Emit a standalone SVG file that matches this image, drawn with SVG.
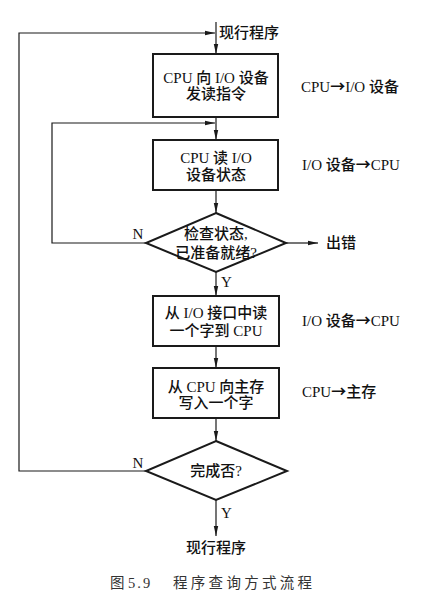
<svg xmlns="http://www.w3.org/2000/svg" width="426" height="598" viewBox="0 0 426 598">
<style>
.t{font-family:"Liberation Serif","Noto Sans CJK SC",serif;font-size:15px;font-weight:500;fill:#111}
.m{text-anchor:middle}
.ar{font-family:"Noto Sans CJK SC",sans-serif;font-weight:700;font-size:15px}
.box{fill:#fff;stroke:#1a1a1a;stroke-width:2}
.ln{fill:none;stroke:#1a1a1a;stroke-width:1.2}
.cap{font-family:"Liberation Serif","Noto Sans CJK SC",serif;font-size:14.5px;fill:#333}
</style>
<defs>
<marker id="a" viewBox="0 0 10 6" refX="10" refY="3" markerWidth="10" markerHeight="6" markerUnits="userSpaceOnUse" orient="auto">
<path d="M0,0.8 L10,3 L0,5.2 Z" fill="#1a1a1a"/>
</marker>
</defs>
<rect width="426" height="598" fill="#fff"/>
<g id="connectors">
<path class="ln" d="M216,22 V54" marker-end="url(#a)"/>
<path class="ln" d="M147,471 H19 V33 H215" marker-end="url(#a)"/>
<path class="ln" d="M216,117 V140" marker-end="url(#a)"/>
<path class="ln" d="M146,243 H52 V123 H215" marker-end="url(#a)"/>
<path class="ln" d="M216,190 V213" marker-end="url(#a)"/>
<path class="ln" d="M286,243 H318" marker-end="url(#a)"/>
<path class="ln" d="M216,272 V296" marker-end="url(#a)"/>
<path class="ln" d="M216,346 V368" marker-end="url(#a)"/>
<path class="ln" d="M216,418 V441" marker-end="url(#a)"/>
<path class="ln" d="M216,500 V536" marker-end="url(#a)"/>
<text class="t" x="138" y="239" text-anchor="middle">N</text>
<text class="t" x="138" y="468" text-anchor="middle">N</text>
<text class="t" x="221" y="287">Y</text>
<text class="t" x="221" y="518">Y</text>
</g>
<g id="start">
<text class="t" x="219" y="38">现行程序</text>
</g>
<g id="n1">
<rect class="box" x="153" y="54" width="125" height="63"/>
<text class="t m" x="216" y="83">CPU 向 I/O 设备</text>
<text class="t m" x="216" y="99">发读指令</text>
<text class="t" x="301" y="92">CPU<tspan class="ar">→</tspan>I/O 设备</text>
</g>
<g id="n2">
<rect class="box" x="153" y="140" width="125" height="50"/>
<text class="t m" x="216" y="163">CPU 读 I/O</text>
<text class="t m" x="216" y="180">设备状态</text>
<text class="t" x="302" y="170">I/O 设备<tspan class="ar">→</tspan>CPU</text>
</g>
<g id="d1">
<polygon class="box" points="216,213 286,243 216,272 146,243"/>
<text class="t m" x="216" y="239">检查状态,</text>
<text class="t m" x="216" y="258">已准备就绪?</text>
</g>
<g id="err">
<text class="t" x="326" y="248">出错</text>
</g>
<g id="n3">
<rect class="box" x="153" y="296" width="126" height="50"/>
<text class="t m" x="216" y="318">从 I/O 接口中读</text>
<text class="t m" x="216" y="336">一个字到 CPU</text>
<text class="t" x="302" y="326">I/O 设备<tspan class="ar">→</tspan>CPU</text>
</g>
<g id="n4">
<rect class="box" x="153" y="368" width="126" height="50"/>
<text class="t m" x="216" y="392">从 CPU 向主存</text>
<text class="t m" x="216" y="408">写入一个字</text>
<text class="t" x="302" y="397">CPU<tspan class="ar">→</tspan>主存</text>
</g>
<g id="d2">
<polygon class="box" points="216,441 287,471 216,500 146,471"/>
<text class="t m" x="216" y="476">完成否?</text>
</g>
<g id="end">
<text class="t m" x="216" y="553">现行程序</text>
</g>
<g id="caption">
<text class="cap" x="110" y="588">图</text>
<text class="cap" x="128" y="588" letter-spacing="2">5.9</text>
<text class="cap" x="173" y="588" letter-spacing="3.3">程序查询方式流程</text>
</g>
</svg>
